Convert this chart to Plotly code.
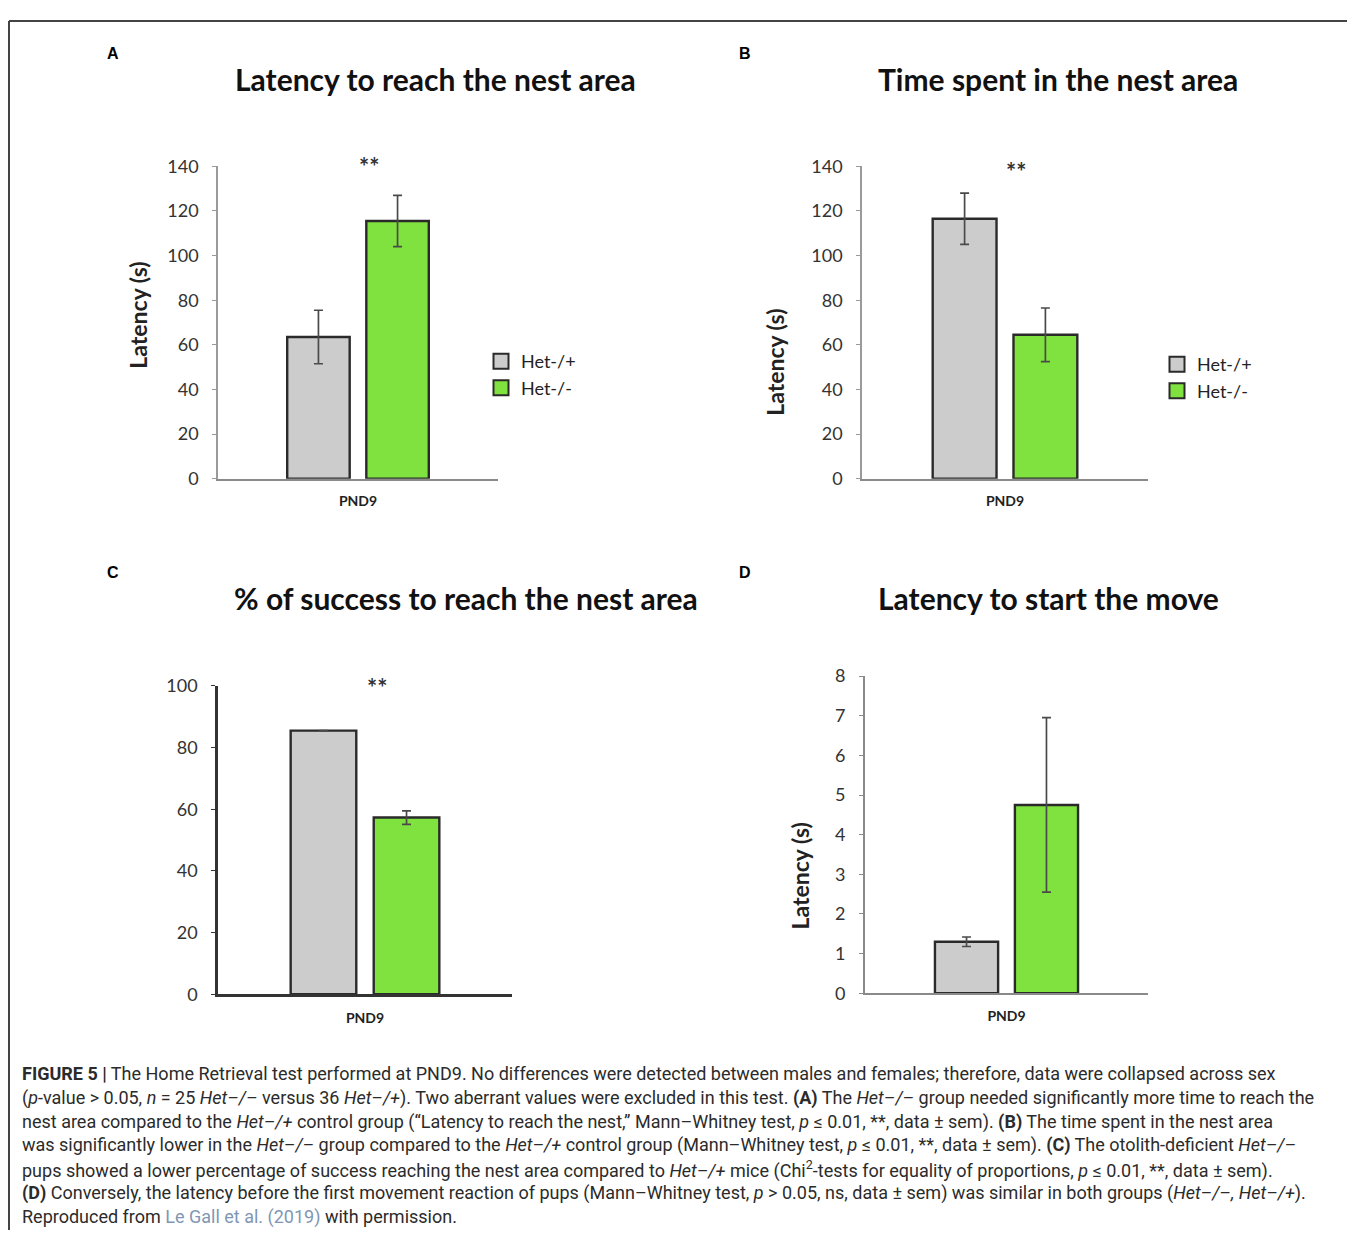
import plotly.graph_objects as go

# ---------------- data ----------------
categories = ["PND9"]
groups = ["Het-/+", "Het-/-"]
group_colors = ["#cccccc", "#80e23e"]

panelA_mean = [63.5, 115.5]
panelA_sem = [12.0, 11.5]
panelB_mean = [116.5, 64.5]
panelB_sem = [11.5, 12.0]
panelC_mean = [85.5, 57.3]
panelC_sem = [0.0, 2.2]
panelD_mean = [1.3, 4.75]
panelD_sem = [0.12, 2.2]

titles = ["Latency to reach the nest area", "Time spent in the nest area",
          "% of success to reach the nest area", "Latency to start the move"]
panel_letters = ["A", "B", "C", "D"]
ticksAB = [0, 20, 40, 60, 80, 100, 120, 140]
ticksC = [0, 20, 40, 60, 80, 100]
ticksD = [0, 1, 2, 3, 4, 5, 6, 7, 8]
ylabel = "Latency (s)"
signif = "**"

caption_lines = [
    "<b>FIGURE 5 |</b> The Home Retrieval test performed at PND9. No differences were detected between males and females; therefore, data were collapsed across sex",
    "(<i>p</i>-value &gt; 0.05, <i>n</i> = 25 <i>Het–/–</i> versus 36 <i>Het–/+</i>). Two aberrant values were excluded in this test. <b>(A)</b> The <i>Het–/–</i> group needed significantly more time to reach the",
    "nest area compared to the <i>Het–/+</i> control group (“Latency to reach the nest,” Mann–Whitney test, <i>p</i> ≤ 0.01, **, data ± sem). <b>(B)</b> The time spent in the nest area",
    "was significantly lower in the <i>Het–/–</i> group compared to the <i>Het–/+</i> control group (Mann–Whitney test, <i>p</i> ≤ 0.01, **, data ± sem). <b>(C)</b> The otolith-deficient <i>Het–/–</i>",
    "pups showed a lower percentage of success reaching the nest area compared to <i>Het–/+</i> mice (Chi<sup>2</sup>-tests for equality of proportions, <i>p</i> ≤ 0.01, **, data ± sem).",
    "<b>(D)</b> Conversely, the latency before the first movement reaction of pups (Mann–Whitney test, <i>p</i> &gt; 0.05, ns, data ± sem) was similar in both groups (<i>Het–/–, Het–/+</i>).",
    "Reproduced from <span style='color:#7f97b3'>Le Gall et al. (2019)</span> with permission.",
]

# ---------------- layout helpers (page pixels -> paper coords) ----------------
OFF = 8                      # page body margin
W, H = 1355 - OFF, 1240 - OFF
def px(x):
    return (x - OFF) / W
def py(y):
    return 1 - (y - OFF) / H

CHART_FONT = "Lato, 'Open Sans', sans-serif"
CAP_FONT = "Roboto, 'Liberation Sans', sans-serif"
OUTLINE = "#2a2a2a"

fig = go.Figure()

panels = [
    dict(mean=panelA_mean, sem=panelA_sem, xa="x", ya="y", legend="legend", key=True),
    dict(mean=panelB_mean, sem=panelB_sem, xa="x2", ya="y2", legend="legend2", key=True),
    dict(mean=panelC_mean, sem=panelC_sem, xa="x3", ya="y3", legend="legend", key=False),
    dict(mean=panelD_mean, sem=panelD_sem, xa="x4", ya="y4", legend="legend", key=False),
]

for p in panels:
    for i, g in enumerate(groups):
        fig.add_trace(go.Bar(
            x=categories, y=[p["mean"][i]], name=g,
            marker=dict(color=group_colors[i], line=dict(color=OUTLINE, width=2.4)),
            error_y=dict(type="data", array=[p["sem"][i]], color="#4a4a4a", thickness=1.7, width=4.5),
            xaxis=p["xa"], yaxis=p["ya"], showlegend=False,
            offsetgroup=str(i),
        ))
    if p["key"]:
        # legend keys (square swatches like the original legend)
        for i, g in enumerate(groups):
            fig.add_trace(go.Scatter(
                x=[None], y=[None], mode="markers", name=g,
                marker=dict(symbol="square", size=15, color=group_colors[i],
                            line=dict(color=OUTLINE, width=2)),
                xaxis=p["xa"], yaxis=p["ya"], legend=p["legend"], showlegend=True,
                hoverinfo="skip",
            ))

axis_common_x = dict(type="category", showgrid=False, zeroline=False, ticks="",
                     showline=True, tickfont=dict(family=CHART_FONT, size=14, color="#222", weight="bold"),
                     ticklabelstandoff=9)
axis_common_y = dict(showgrid=False, zeroline=False, ticks="outside", ticklen=4,
                     showline=True, tickfont=dict(family=CHART_FONT, size=18, color="#333"),
                     ticklabelstandoff=10)

# domains in page pixels: (x0, x1, y_of_zero, y_of_top)
dA = (218, 498, 475, 157)
dB = (862, 1148, 475, 157)
dC = (218, 512, 1000, 686)
dD = (865, 1148, 999, 676)

def dom(d):
    return [px(d[0]), px(d[1])], [py(d[2]), py(d[3])]

xa, ya = dom(dA)
fig.update_layout(
    xaxis=dict(domain=xa, anchor="y", linecolor="#8a8a8a", linewidth=1.5, **axis_common_x),
    yaxis=dict(domain=ya, anchor="x", range=[0, 140], tickvals=ticksAB, linecolor="#9a9a9a",
               linewidth=1.5, tickcolor="#9a9a9a", **axis_common_y),
)
xa, ya = dom(dB)
fig.update_layout(
    xaxis2=dict(domain=xa, anchor="y2", linecolor="#8a8a8a", linewidth=1.5, **axis_common_x),
    yaxis2=dict(domain=ya, anchor="x2", range=[0, 140], tickvals=ticksAB, linecolor="#9a9a9a",
                linewidth=1.5, tickcolor="#9a9a9a", **axis_common_y),
)
xa, ya = dom(dC)
fig.update_layout(
    xaxis3=dict(domain=xa, anchor="y3", linecolor="#333333", linewidth=2.5, **axis_common_x),
    yaxis3=dict(domain=ya, anchor="x3", range=[0, 100], tickvals=ticksC, linecolor="#333333",
                linewidth=2.5, tickcolor="#333333", **axis_common_y),
)
xa, ya = dom(dD)
fig.update_layout(
    xaxis4=dict(domain=xa, anchor="y4", linecolor="#8a8a8a", linewidth=1.8, **axis_common_x),
    yaxis4=dict(domain=ya, anchor="x4", range=[0, 8], tickvals=ticksD, linecolor="#8a8a8a",
                linewidth=1.8, tickcolor="#8a8a8a", **axis_common_y),
)

legend_style = dict(font=dict(family=CHART_FONT, size=18, color="#222"), bgcolor="rgba(0,0,0,0)",
                    xanchor="left", yanchor="top", traceorder="normal", itemwidth=30,
                    tracegroupgap=0, itemsizing="trace")
fig.update_layout(
    legend=dict(x=px(481), y=py(337), **legend_style),
    legend2=dict(x=px(1157), y=py(340), **legend_style),
)

annotations = []
# titles
title_pos = [(435, 68), (1058, 68), (466, 597), (1048, 597)]
for t, (tx, ty) in zip(titles, title_pos):
    annotations.append(dict(text="<b>" + t + "</b>", x=px(tx), y=py(ty), xref="paper", yref="paper",
                            showarrow=False, xanchor="center", yanchor="middle",
                            font=dict(family=CHART_FONT, size=30, color="#111")))
# panel letters
letter_pos = [(113, 42), (745, 42), (113, 571), (745, 571)]
for l, (lx, ly) in zip(panel_letters, letter_pos):
    annotations.append(dict(text="<b>" + l + "</b>", x=px(lx), y=py(ly), xref="paper", yref="paper",
                            showarrow=False, xanchor="center", yanchor="middle",
                            font=dict(family="Liberation Sans, Arial", size=16, color="#000")))
# y labels
ylab_pos = [(138, 309), (775, 356), (800, 880)]
for (lx, ly) in ylab_pos:
    annotations.append(dict(text="<b>" + ylabel + "</b>", x=px(lx), y=py(ly), xref="paper", yref="paper",
                            showarrow=False, xanchor="center", yanchor="middle", textangle=-90,
                            font=dict(family=CHART_FONT, size=23, color="#222")))
# significance stars
for xr, yr, yv in [("x domain", "y", 140), ("x2 domain", "y2", 137.5), ("x3 domain", "y3", 99.5)]:
    annotations.append(dict(text="<b>" + signif + "</b>", x=0.54, y=yv, xref=xr, yref=yr,
                            showarrow=False, xanchor="center", yanchor="middle",
                            font=dict(family=CHART_FONT, size=24, color="#333")))
# caption
cap_y0, cap_dy = 1081, 24.3
for k, line in enumerate(caption_lines):
    annotations.append(dict(text=line, x=px(20), y=py(cap_y0 + cap_dy * k), xref="paper", yref="paper",
                            showarrow=False, xanchor="left", yanchor="middle", align="left",
                            font=dict(family=CAP_FONT, size=18, color="#2b2b2b")))

shapes = [
    dict(type="line", xref="paper", yref="paper", x0=px(9), x1=1, y0=py(9), y1=py(9),
         line=dict(color="#444", width=2)),
    dict(type="line", xref="paper", yref="paper", x0=px(9), x1=px(9), y0=py(9), y1=0,
         line=dict(color="#444", width=2)),
]

fig.update_layout(
    width=W, height=H, margin=dict(l=0, r=0, t=0, b=0),
    paper_bgcolor="white", plot_bgcolor="white",
    barmode="group", bargap=0.435, bargroupgap=0.21,
    annotations=annotations, shapes=shapes,
)

fig.write_html("out.html")
